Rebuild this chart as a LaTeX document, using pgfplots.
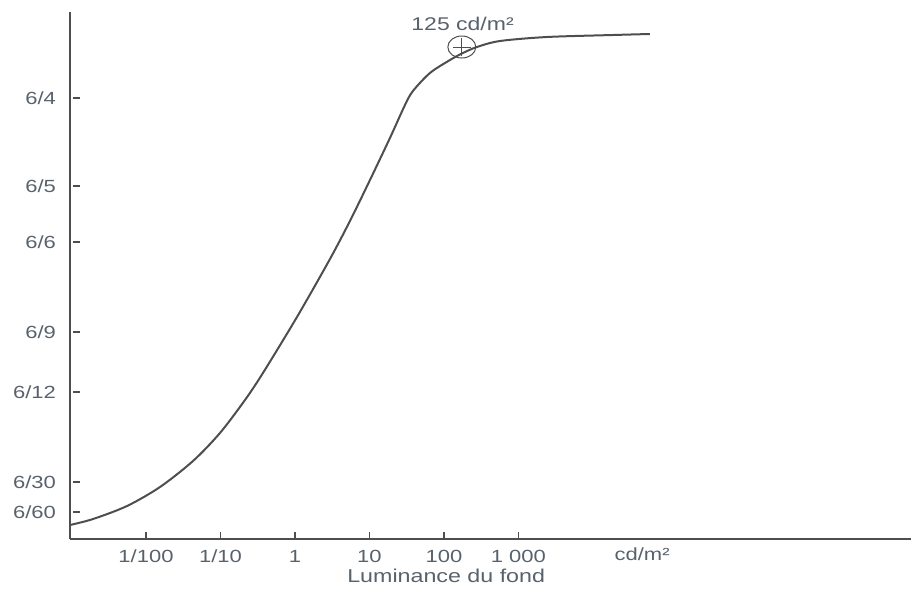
\documentclass[border=0pt]{standalone}
\usepackage{pgfplots}
\pgfplotsset{compat=1.18}
\usepackage{fontspec}
\setmainfont{Liberation Sans}[FakeStretch=1.25]
\definecolor{txt}{RGB}{88,98,108}
\definecolor{ln}{RGB}{78,78,78}
\begin{document}
\begin{tikzpicture}
\begin{axis}[name=ax, scale only axis, width=420.5pt, height=263.5pt,
  xmin=-3.02, xmax=8.27, ymin=0, ymax=527,
  axis x line*=bottom, axis y line*=left,
  axis line style={ln, line width=0.9pt},
  xtick={-2,-1,0,1,2,3}, xticklabels={1/100,1/10,1,10,100,1 000},
  ytick={27,57,147,207,297,353,441},
  yticklabels={6/60,6/30,6/12,6/9,6/6,6/5,6/4},
  xmajorticks=true, ymajorticks=true,
  xtick align=inside, ytick align=outside,
  major tick length=3.5pt,
  every tick/.style={ln, line width=0.7pt},
  ytick style={ln, line width=0.8pt, xshift=5.2pt},
  ticklabel style={font=\fontsize{8.8}{10}\selectfont, text=txt},
  /pgf/number format/assume math mode=true,
  xticklabel style={yshift=-2pt}, yticklabel style={xshift=0pt},
  clip=false]
\addplot[ln, line width=1pt, smooth, tension=0.5] coordinates {
(-3.020,14) (-2.711,20) (-2.255,33) (-1.812,52) (-1.369,78) (-1.007,106)
(-0.671,139) (-0.430,166) (0.027,222) (0.470,280) (0.738,318) (1.007,359)
(1.275,401) (1.477,434) (1.584,448) (1.812,466) (2.081,479) (2.255,486)
(2.443,492) (2.752,498) (3.383,502) (4.268,504) (4.765,505)};
\addplot[ln, line width=0.5pt, only marks, mark=o, mark size=5.5pt,
  mark options={xscale=1.27}] coordinates {(2.24,492)};
\addplot[ln, line width=0.4pt, only marks, mark=+, mark size=4.5pt] coordinates {(2.24,492)};
\node[txt, font=\fontsize{9.2}{10}\selectfont] at (axis cs:2.25,515) {125 cd/m²};
\node[txt, font=\fontsize{8.8}{10}\selectfont, anchor=base] at (axis cs:4.66,0) [yshift=-10.5pt] {cd/m²};
\node[txt, font=\fontsize{9.3}{11}\selectfont] at (axis cs:2.03,0) [yshift=-18.5pt] {Luminance du fond};
\end{axis}
\pgfresetboundingbox
\path (ax.south west) ++(-35pt,-33.5pt) rectangle ([yshift=6pt]ax.north east);
\end{tikzpicture}
\end{document}
